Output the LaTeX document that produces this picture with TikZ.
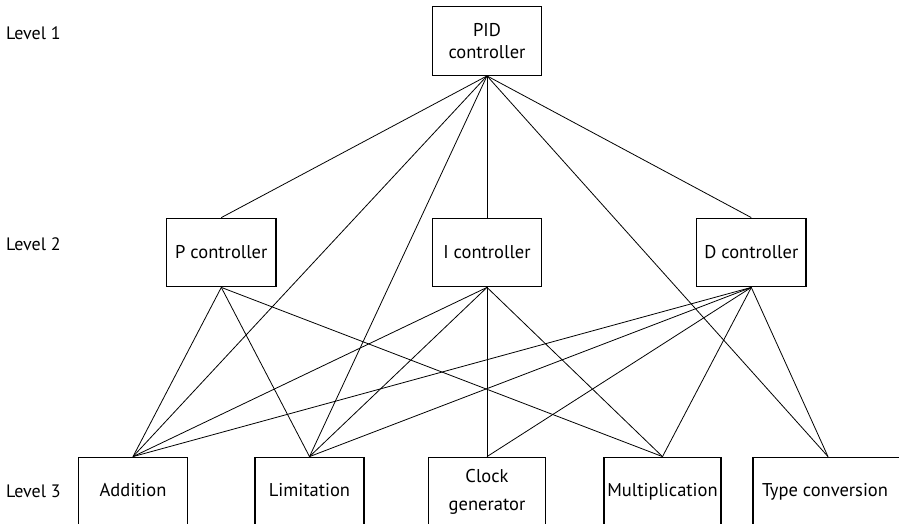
\documentclass[tikz,border=0pt]{standalone}
\usepackage{fontspec}
\setmainfont{PT Sans}
\begin{document}
\begin{tikzpicture}[x=1pt,y=-1pt,
  box/.style={draw=black,line width=1.3pt,inner sep=0pt,align=center,font=\fontsize{18.5}{22}\selectfont,minimum height=68.5pt},
  conn/.style={line width=0.8pt},
  lvl/.style={anchor=west,inner sep=0pt,font=\fontsize{18}{21}\selectfont}]
\useasboundingbox (0,0) rectangle (899,523);
\clip (0,0) rectangle (899,523);
% levels
\node[lvl] (l1) at (6,33) {Level 1};
\node[lvl] (l2) at (6,244) {Level 2};
\node[lvl] (l3) at (6,491) {Level 3};
% level 1
\node[box,minimum width=109pt] (pid) at (487,41) {PID\\controller};
% level 2
\node[box,minimum width=109.5pt] (p) at (221.3,252.5) {P controller};
\node[box,minimum width=109.5pt] (i) at (487,252.5) {I controller};
\node[box,minimum width=109.5pt] (d) at (751.3,252.5) {D controller};
% level 3
\node[box,minimum width=108.5pt] (add) at (133,491.5) {Addition\vphantom{g}};
\node[box,minimum width=109pt] (lim) at (309.5,491.5) {Limitation\vphantom{g}};
\node[box,minimum width=117pt,font=\fontsize{18.5}{28}\selectfont] (clk) at (487,491.5) {Clock\\generator};
\node[box,minimum width=117pt] (mul) at (662.5,491.5) {Multiplication\vphantom{g}};
\node[box,minimum width=150pt] (typ) at (828,491.5) {};
\node[font=\fontsize{18.5}{21}\selectfont,inner sep=0pt] (typt) at (825,491.5) {Type conversion};
% connectors from PID
\foreach \t in {p,i,d} \draw[conn] (pid.south) -- (\t.north);
\foreach \t in {add,lim,typ} \draw[conn] (pid.south) -- (\t.north);
% from P
\foreach \t in {add,lim,mul} \draw[conn] (p.south) -- (\t.north);
% from I
\foreach \t in {add,lim,clk,mul} \draw[conn] (i.south) -- (\t.north);
% from D
\foreach \t in {add,lim,clk,mul,typ} \draw[conn] (d.south) -- (\t.north);
\end{tikzpicture}
\end{document}
